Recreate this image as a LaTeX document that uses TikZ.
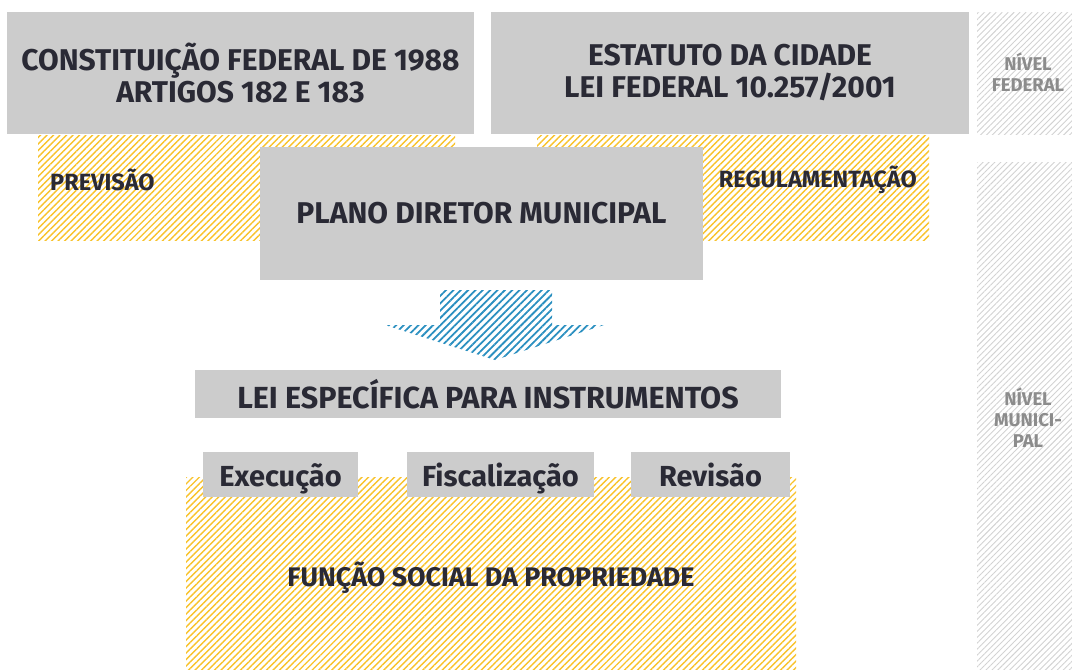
\documentclass[tikz,border=0pt]{standalone}
\usepackage{fontspec}
\setmainfont{Fira Sans}
\usetikzlibrary{patterns.meta}
\definecolor{boxgray}{HTML}{CCCCCC}
\definecolor{ink}{HTML}{2A2A35}
\definecolor{hatchy}{HTML}{F8C22A}
\definecolor{hatchb}{HTML}{2A8FC0}
\definecolor{hatchg}{HTML}{D2D2D2}
\definecolor{lvltext}{HTML}{8C8C8C}
\tikzset{
  box/.style={fill=boxgray, draw=none, inner sep=0pt, text=ink, font=\bfseries, align=center},
  smallbox/.style={box, minimum height=45pt, font=\bfseries\fontsize{29}{32}\selectfont, text height=23pt, text depth=0pt},
  yhatch/.style={pattern={Lines[angle=45,distance=4.6pt,line width=1.4pt]}, pattern color=hatchy},
  ghatch/.style={pattern={Lines[angle=45,distance=4.2pt,line width=0.9pt]}, pattern color=hatchg},
  bhatch/.style={pattern={Lines[angle=45,distance=5.2pt,line width=1.8pt]}, pattern color=hatchb},
  lbl/.style={inner sep=0pt, text=ink, font=\bfseries},
  lvl/.style={inner sep=0pt, text=lvltext, font=\bfseries\fontsize{18.5}{21}\selectfont, align=center},
}
\begin{document}
\begin{tikzpicture}[x=1pt,y=-1pt]
\useasboundingbox (0,0) rectangle (1072,670);
% level strips
\path[ghatch] (977,12) rectangle (1072,134);
\path[ghatch] (977,162) rectangle (1072,670);
\node[lvl] (nf) at (1028,72) {NÍVEL\\FEDERAL};
\node[lvl] (nm) at (1028,418) {NÍVEL\\MUNICI-\\PAL};
% yellow hatched areas
\path[yhatch] (38,135) rectangle (455,240);
\path[yhatch] (537,135) rectangle (929,240);
\path[yhatch] (186,477) rectangle (796,670);
% top boxes
\node[box, minimum width=467pt, minimum height=122pt, font=\bfseries\fontsize{30}{32}\selectfont] (cf) at (240.5,73) {CONSTITUIÇÃO FEDERAL DE 1988\\ARTIGOS 182 E 183};
\node[box, minimum width=478pt, minimum height=122pt, font=\bfseries\fontsize{30}{32}\selectfont] (ec) at (730,73) {ESTATUTO DA CIDADE\\LEI FEDERAL 10.257/2001};
\node[lbl, anchor=west, font=\bfseries\fontsize{23.5}{26}\selectfont] (prev) at (50,180) {PREVISÃO};
\node[lbl, anchor=east, font=\bfseries\fontsize{23.5}{26}\selectfont] (reg) at (917,180) {REGULAMENTAÇÃO};
% plano diretor
\node[box, minimum width=443pt, minimum height=133pt, font=\bfseries\fontsize{30}{34}\selectfont] (pd) at (481.5,213.5) {PLANO DIRETOR MUNICIPAL};
% arrow
\path[bhatch] (440,290) -- (552,290) -- (552,325) -- (604,325) -- (495,360) -- (385,325) -- (440,325) -- cycle;
% lei especifica
\node[box, minimum width=586pt, minimum height=48pt, font=\bfseries\fontsize{30.5}{34}\selectfont] (le) at (488,394) {LEI ESPECÍFICA PARA INSTRUMENTOS};
% small boxes
\node[smallbox, minimum width=155pt] (ex) at (280.5,474.5) {Execução};
\node[smallbox, minimum width=187pt] (fi) at (500.5,474.5) {Fiscalização};
\node[smallbox, minimum width=159pt] (re) at (710.5,474.5) {Revisão};
% funcao social
\node[lbl] (fs) at (491,578) {\resizebox{407pt}{!}{\bfseries\fontsize{24}{28}\selectfont FUNÇÃO SOCIAL DA PROPRIEDADE}};
\end{tikzpicture}
\end{document}
